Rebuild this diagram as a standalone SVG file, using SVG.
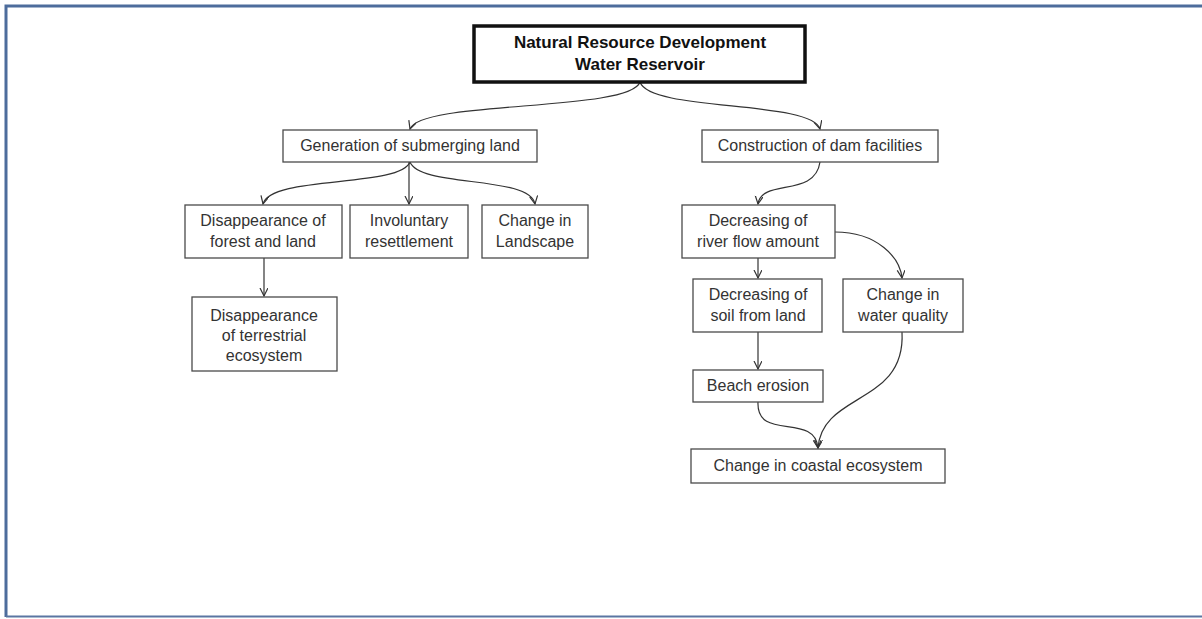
<svg xmlns="http://www.w3.org/2000/svg" width="1202" height="619" viewBox="0 0 1202 619">
<defs>
<style>
.box{fill:#fff;stroke:#4a4a4a;stroke-width:1.3}
.top{fill:#fff;stroke:#111;stroke-width:3.5}
.t{font-family:"Liberation Sans",Arial,sans-serif;font-size:16px;fill:#333;text-anchor:middle}
.tb{font-family:"Liberation Sans",Arial,sans-serif;font-size:17px;font-weight:bold;fill:#111;text-anchor:middle}
.c{fill:none;stroke:#333;stroke-width:1.2}
</style>
<marker id="ah" markerWidth="10" markerHeight="10" refX="8" refY="4" orient="auto" markerUnits="userSpaceOnUse">
<path d="M0,0 L8,4 L0,8" fill="none" stroke="#333" stroke-width="1.2"/>
</marker>
</defs>
<rect x="0" y="0" width="1202" height="619" fill="#fff"/>
<path d="M6,617 L6,6 L1202,6" fill="none" stroke="#4d6c9c" stroke-width="3"/>
<path d="M6,616.5 L1202,616.5" fill="none" stroke="#5a76a2" stroke-width="2"/>

<g id="connectors">
<path class="c" marker-end="url(#ah)" d="M640,82 C630,112 420,100 410,129"/>
<path class="c" marker-end="url(#ah)" d="M640,82 C650,112 812,100 820,129"/>
<path class="c" marker-end="url(#ah)" d="M410,162 C400,188 270,175 263,204"/>
<path class="c" marker-end="url(#ah)" d="M409,162 L409,204"/>
<path class="c" marker-end="url(#ah)" d="M410,162 C420,188 530,175 535,204"/>
<path class="c" marker-end="url(#ah)" d="M264,258 L264,296"/>
<path class="c" marker-end="url(#ah)" d="M820,162 C815,198 762,178 758,204"/>
<path class="c" marker-end="url(#ah)" d="M758,258 L758,278"/>
<path class="c" marker-end="url(#ah)" d="M835,232 C878,232 900,258 902,278"/>
<path class="c" marker-end="url(#ah)" d="M758,332 L758,369"/>
<path class="c" marker-end="url(#ah)" d="M758,402 C756,442 815,412 818,448"/>
<path class="c" marker-end="url(#ah)" d="M902,332 C906,405 822,392 818,448"/>
</g>

<g id="n-top">
<rect class="top" x="474" y="26" width="331" height="56"/>
<text class="tb" x="640" y="48">Natural Resource Development</text>
<text class="tb" x="640" y="70">Water Reservoir</text>
</g>
<g id="n-gen">
<rect class="box" x="283" y="130" width="254" height="32"/>
<text class="t" x="410" y="151">Generation of submerging land</text>
</g>
<g id="n-con">
<rect class="box" x="702" y="130" width="236" height="32"/>
<text class="t" x="820" y="151">Construction of dam facilities</text>
</g>
<g id="n-forest">
<rect class="box" x="185" y="205" width="157" height="53"/>
<text class="t" x="263" y="226">Disappearance of</text>
<text class="t" x="263" y="247">forest and land</text>
</g>
<g id="n-invol">
<rect class="box" x="350" y="205" width="118" height="53"/>
<text class="t" x="409" y="226">Involuntary</text>
<text class="t" x="409" y="247">resettlement</text>
</g>
<g id="n-land">
<rect class="box" x="482" y="205" width="106" height="53"/>
<text class="t" x="535" y="226">Change in</text>
<text class="t" x="535" y="247">Landscape</text>
</g>
<g id="n-terr">
<rect class="box" x="192" y="297" width="145" height="74"/>
<text class="t" x="264" y="321">Disappearance</text>
<text class="t" x="264" y="341">of terrestrial</text>
<text class="t" x="264" y="361">ecosystem</text>
</g>
<g id="n-river">
<rect class="box" x="682" y="205" width="153" height="53"/>
<text class="t" x="758" y="226">Decreasing of</text>
<text class="t" x="758" y="247">river flow amount</text>
</g>
<g id="n-soil">
<rect class="box" x="693" y="279" width="129" height="53"/>
<text class="t" x="758" y="300">Decreasing of</text>
<text class="t" x="758" y="321">soil from land</text>
</g>
<g id="n-water">
<rect class="box" x="843" y="279" width="120" height="53"/>
<text class="t" x="903" y="300">Change in</text>
<text class="t" x="903" y="321">water quality</text>
</g>
<g id="n-beach">
<rect class="box" x="693" y="370" width="130" height="32"/>
<text class="t" x="758" y="391">Beach erosion</text>
</g>
<g id="n-coastal">
<rect class="box" x="691" y="449" width="254" height="34"/>
<text class="t" x="818" y="471">Change in coastal ecosystem</text>
</g>
</svg>
